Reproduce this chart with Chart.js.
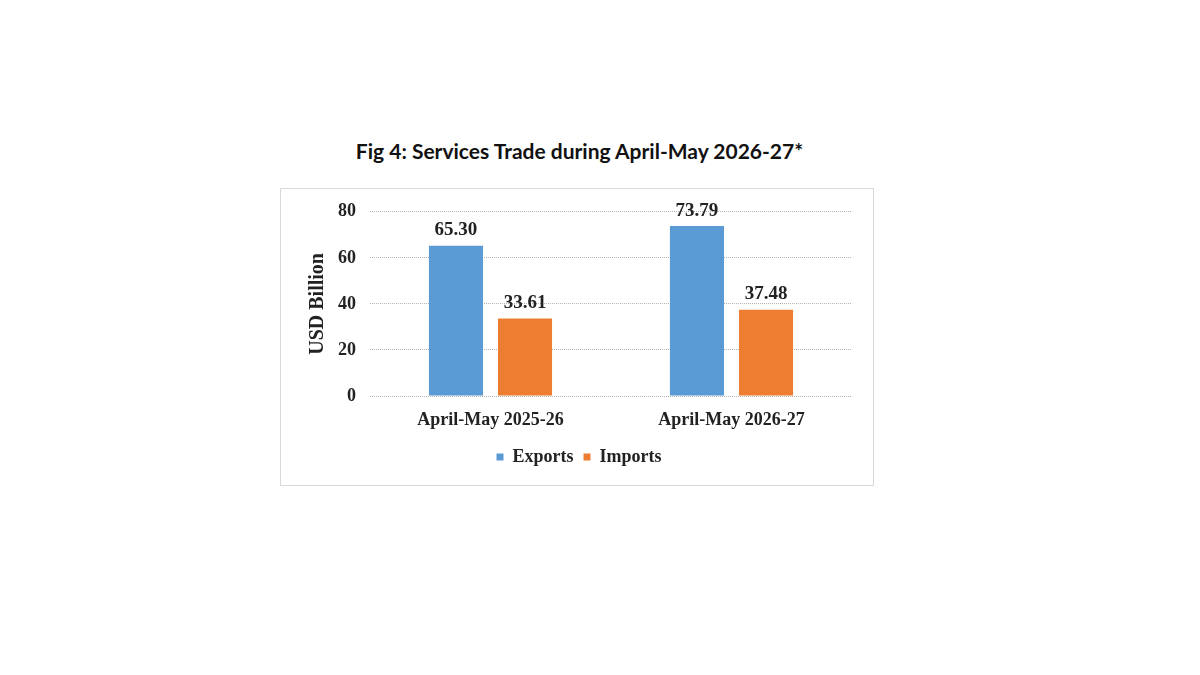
<!DOCTYPE html>
<html>
<head>
<meta charset="utf-8">
<script src="https://cdn.jsdelivr.net/npm/chart.js@4"></script>
<style>
  html, body { margin:0; padding:0; background:#fff; }
  body { width:1200px; height:675px; position:relative; overflow:hidden; }
  #title {
    position:absolute; left:0; width:1159px; top:138px; text-align:center;
    font-family:Lato, "Open Sans", sans-serif; font-weight:bold; font-size:21px; color:#111;
  }
  #box {
    position:absolute; left:280px; top:188px; width:592px; height:296px;
    border:1px solid #d9d9d9;
  }
</style>
</head>
<body>
<div id="title">Fig 4: Services Trade during April-May 2026-27*</div>
<div id="box"><canvas id="chart" width="592" height="296"></canvas></div>
<script>
/* ===== Data ===== */
const categories = ['April-May 2025-26', 'April-May 2026-27'];
const exportsVals = [65.30, 73.79];
const importsVals = [33.61, 37.48];
const yTicks = [0, 20, 40, 60, 80];

const serif = '"Liberation Serif", "Times New Roman", serif';

// value labels above bars
const barValues = {
  id: 'barValues',
  afterDatasetsDraw(chart) {
    const ctx = chart.ctx;
    ctx.save();
    ctx.font = 'bold 19px ' + serif;
    ctx.fillStyle = '#222';
    ctx.textAlign = 'center';
    ctx.textBaseline = 'bottom';
    chart.data.datasets.forEach((ds, i) => {
      chart.getDatasetMeta(i).data.forEach((bar, j) => {
        ctx.fillText(ds.data[j].toFixed(2), bar.x, bar.y - 6);
      });
    });
    ctx.restore();
  }
};

new Chart(document.getElementById('chart'), {
  type: 'bar',
  data: {
    labels: categories,
    datasets: [
      { label: 'Exports', data: exportsVals, backgroundColor: '#5B9BD5' },
      { label: 'Imports', data: importsVals, backgroundColor: '#ED7D31' }
    ]
  },
  options: {
    responsive: false,
    animation: false,
    categoryPercentage: 0.573,
    barPercentage: 0.783,
    layout: { padding: { left: 25, right: 21, top: 10, bottom: 9 } },
    plugins: {
      legend: {
        position: 'bottom',
        labels: {
          boxWidth: 7, boxHeight: 7, padding: 10,
          color: '#222',
          font: { family: serif, weight: 'bold', size: 18 }
        }
      },
      tooltip: { enabled: false }
    },
    scales: {
      x: {
        grid: { display: false },
        border: { display: false },
        ticks: { color: '#222', padding: 6, font: { family: serif, weight: 'bold', size: 18 } },
        afterFit: s => { s.height = 42; }
      },
      y: {
        min: 0, max: 80,
        afterBuildTicks: s => { s.ticks = yTicks.map(v => ({ value: v })); },
        // invisible tick marks keep the labels off the plot without extra top padding
        grid: { color: '#b4b4b4', lineWidth: 1, drawTicks: true, tickLength: 2, tickColor: 'rgba(0,0,0,0)' },
        border: { display: false, dash: [1, 1] },   // dotted grid lines
        ticks: { color: '#222', padding: 12, font: { family: serif, weight: 'bold', size: 18 } },
        title: {
          display: true, text: 'USD Billion', color: '#222',
          font: { family: serif, weight: 'bold', size: 20 }, padding: 0
        },
        afterFit: s => { s.width = 64; }
      }
    }
  },
  plugins: [barValues]
});
</script>
</body>
</html>
